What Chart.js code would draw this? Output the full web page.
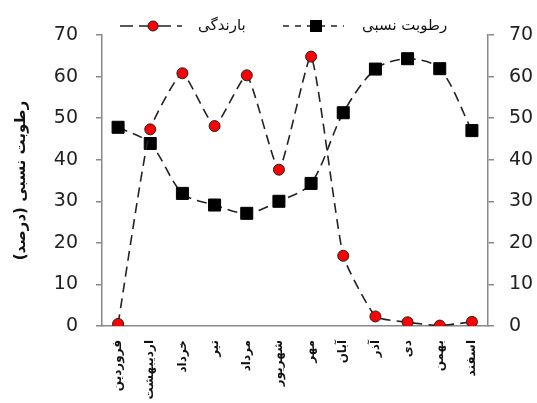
<!DOCTYPE html>
<html lang="fa">

<head>
    <meta charset="UTF-8">
    <script src="https://cdn.jsdelivr.net/npm/chart.js"></script>
    <title>بارندگی و رطوبت نسبی</title>
    <style>
        body { margin: 0; background: #fff; }
        #grafico { width: 537px; height: 403px; }
    </style>
</head>

<body>
    <div id="grafico">
        <canvas id="chart" width="537" height="403"></canvas>
    </div>
</body>

</html>
<script>
    // dados
    const meses = ['فروردین', 'اردیبهشت', 'خرداد', 'تیر', 'مرداد', 'شهریور', 'مهر', 'آبان', 'آذر', 'دی', 'بهمن', 'اسفند'];
    const barandegi = [0.5, 47.3, 60.8, 48.1, 60.3, 37.6, 64.8, 16.9, 2.3, 0.9, 0.1, 1.0];
    const rotubat = [47.8, 43.9, 31.9, 29.1, 27.1, 30.0, 34.3, 51.3, 61.8, 64.3, 61.9, 47.0];
    const ticksY = [0, 10, 20, 30, 40, 50, 60, 70];

    const fonte = 'DejaVu Sans';
    const tracejado = [10, 6];

    // legenda desenhada a mao (linha tracejada + marcador + texto)
    const legendaPlugin = {
        id: 'legendaManual',
        afterDraw(chart) {
            const ctx = chart.ctx;
            const y = 26;
            ctx.save();
            ctx.strokeStyle = '#222';
            ctx.lineWidth = 1.5;

            // item 1 - بارندگی
            ctx.setLineDash([13, 6]);
            ctx.beginPath(); ctx.moveTo(120, y); ctx.lineTo(182, y); ctx.stroke();
            ctx.setLineDash([]);
            ctx.beginPath(); ctx.arc(153, y, 5, 0, Math.PI * 2);
            ctx.fillStyle = '#ff0000'; ctx.fill(); ctx.lineWidth = 1; ctx.stroke();

            // item 2 - رطوبت نسبی
            ctx.lineWidth = 1.5;
            ctx.setLineDash([6, 6]);
            ctx.beginPath(); ctx.moveTo(283, y); ctx.lineTo(344, y); ctx.stroke();
            ctx.setLineDash([]);
            ctx.fillStyle = '#000';
            ctx.fillRect(310, y - 6, 12, 12);

            ctx.fillStyle = '#111';
            ctx.font = '15px ' + fonte;
            ctx.textBaseline = 'middle';
            ctx.textAlign = 'left';
            ctx.fillText(chart.data.datasets[0].label, 198, y);
            ctx.fillText(chart.data.datasets[1].label, 362, y);
            ctx.restore();
        }
    };

    const dados = {
        labels: meses,
        datasets: [{
            label: 'بارندگی',
            data: barandegi,
            yAxisID: 'y',
            borderColor: '#222',
            borderWidth: 1.6,
            borderDash: tracejado,
            segment: { borderDash: () => tracejado },
            tension: 0.15,
            pointStyle: 'circle',
            pointRadius: 5.5,
            pointBackgroundColor: '#ff0000',
            pointBorderColor: '#222',
            pointBorderWidth: 1
        }, {
            label: 'رطوبت نسبی',
            data: rotubat,
            yAxisID: 'y',
            borderColor: '#222',
            borderWidth: 1.6,
            borderDash: tracejado,
            segment: { borderDash: () => tracejado },
            tension: 0.3,
            pointStyle: 'rect',
            pointRadius: 8.5,
            pointBackgroundColor: '#000',
            pointBorderColor: '#000',
            pointBorderWidth: 1
        }]
    };

    const eixoY = (pos, pad, larg) => ({
        position: pos,
        min: ticksY[0],
        max: ticksY[ticksY.length - 1],
        afterBuildTicks: (s) => { s.ticks = ticksY.map(v => ({ value: v })); },
        afterFit: (s) => { s.width = larg; },
        grid: { drawOnChartArea: false, tickLength: 6, color: '#888', lineWidth: 1.5 },
        border: { color: '#888', width: 1.5 },
        ticks: { color: '#222', padding: pad, font: { family: fonte, size: 19 } }
    });

    const config = {
        type: 'line',
        data: dados,
        options: {
            responsive: false,
            animation: false,
            layout: { padding: { top: 35, left: 0, right: 0, bottom: 0 } },
            plugins: { legend: { display: false }, tooltip: { enabled: false } },
            scales: {
                x: {
                    offset: true,
                    afterFit: (s) => { s.height = 77; },
                    grid: { display: false, drawTicks: false },
                    border: { color: '#888', width: 1.5 },
                    ticks: {
                        color: '#111', padding: 14, maxRotation: 90, minRotation: 90, autoSkip: false,
                        font: { family: fonte, size: 12, weight: 'bold' }
                    }
                },
                y: Object.assign(eixoY('left', 18, 102), {
                    title: {
                        display: true, text: 'رطوبت نسبی (درصد)', color: '#111',
                        padding: { top: 12, bottom: 0 },
                        font: { family: fonte, size: 15, weight: 'bold' }
                    }
                }),
                y2: eixoY('right', 15, 49)
            }
        },
        plugins: [legendaPlugin]
    };

    let myChart = new Chart(document.getElementById('chart'), config);
</script>
